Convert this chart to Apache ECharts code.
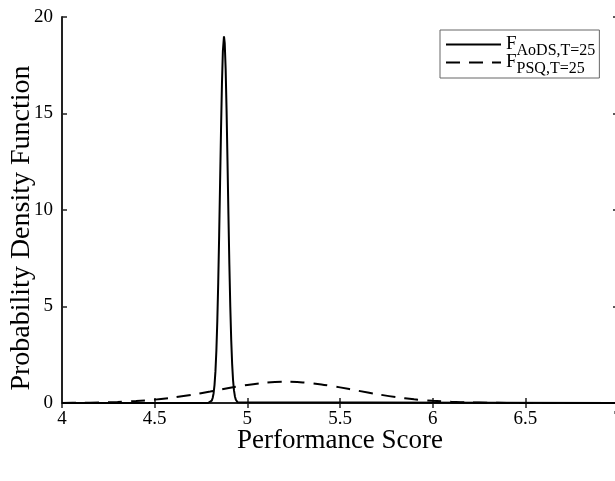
<!DOCTYPE html>
<html>
<head>
<meta charset="utf-8">
<script src="https://cdn.jsdelivr.net/npm/echarts@6/dist/echarts.min.js"></script>
<style>html,body{margin:0;padding:0;background:#fff;}#c{width:615px;height:481px;}</style>
</head>
<body>
<div id="c"></div>
<script>
const xTicks = [4, 4.5, 5, 5.5, 6, 6.5, 7];
const yTicks = [0, 5, 10, 15, 20];
const legendNames = ['AoDS', 'PSQ'];
const xAoDS = [4.0, 4.788, 4.798, 4.808, 4.813, 4.818, 4.823, 4.828, 4.833, 4.838, 4.843, 4.848, 4.853, 4.858, 4.863, 4.868, 4.874, 4.878, 4.883, 4.888, 4.893, 4.898, 4.903, 4.908, 4.913, 4.918, 4.923, 4.928, 4.933, 4.938, 4.948, 4.958, 7.0];
const yAoDS = [0, 0, 0.024, 0.124, 0.258, 0.507, 0.94, 1.65, 2.72, 4.25, 6.26, 8.70, 11.41, 14.13, 16.52, 18.23, 19.0, 18.65, 17.30, 15.15, 12.52, 9.76, 7.19, 5.00, 3.28, 2.03, 1.18, 0.65, 0.34, 0.167, 0.034, 0, 0];
const xPSQ = [4.0, 4.1, 4.2, 4.3, 4.4, 4.5, 4.6, 4.7, 4.8, 4.9, 5.0, 5.1, 5.2, 5.3, 5.4, 5.5, 5.6, 5.7, 5.8, 5.9, 6.0, 6.1, 6.2, 6.3, 6.4, 6.5, 6.7, 7.0];
const yPSQ = [0.005, 0.012, 0.026, 0.053, 0.10, 0.175, 0.283, 0.425, 0.595, 0.774, 0.936, 1.053, 1.10, 1.068, 0.964, 0.809, 0.632, 0.458, 0.308, 0.193, 0.113, 0.061, 0.031, 0.014, 0.006, 0.002, 0, 0];

const FONT = 'Liberation Serif';
const pair = (xs, ys) => xs.map((x, i) => [x, ys[i]]);
const chart = echarts.init(document.getElementById('c'));
const axisCommon = {
  axisLine: { show: true, lineStyle: { color: '#222', width: 2 } },
  axisTick: { show: true, inside: true, length: 5, lineStyle: { color: '#222', width: 1.5 } },
  splitLine: { show: false }
};
chart.setOption({
  animation: false,
  backgroundColor: '#fff',
  grid: { left: 62, right: -3, top: 17, bottom: 78, outerBoundsMode: 'none', containLabel: false },
  legend: {
    left: 440, top: 30,
    orient: 'vertical',
    itemWidth: 55, itemHeight: 18, itemGap: -6,
    padding: [5, 4, 1, 5],
    borderColor: '#666', borderWidth: 1, borderRadius: 0,
    backgroundColor: '#fff',
    data: legendNames,
    itemStyle: { opacity: 0 },
    formatter: n => '{a|F}{b|' + n + ',T=25}',
    textStyle: {
      fontFamily: FONT, color: '#000',
      rich: {
        a: { fontFamily: FONT, fontSize: 19, color: '#000', lineHeight: 19, verticalAlign: 'top' },
        b: { fontFamily: FONT, fontSize: 16, color: '#000', lineHeight: 16, verticalAlign: 'top', padding: [8, 0, 0, 0] }
      }
    }
  },
  xAxis: [
    Object.assign({}, axisCommon, {
      type: 'value', min: 4, max: 7, interval: 0.5,
      name: 'Performance Score', nameLocation: 'middle', nameGap: 24, nameMoveOverlap: false,
      nameTextStyle: { fontFamily: FONT, fontSize: 27, color: '#000' },
      axisLabel: { fontFamily: FONT, fontSize: 19, color: '#000', margin: 7,
        formatter: v => xTicks.includes(v) ? String(v) : '' }
    }),
    Object.assign({}, axisCommon, {
      type: 'value', min: 4, max: 7, interval: 0.5, position: 'top',
      axisLabel: { show: false }
    })
  ],
  yAxis: [
    Object.assign({}, axisCommon, {
      type: 'value', min: 0, max: 20, interval: 5,
      name: 'Probability Density Function', nameLocation: 'middle', nameGap: 26, nameMoveOverlap: false,
      nameTextStyle: { fontFamily: FONT, fontSize: 28, color: '#000', padding: [0, 36, 0, 0] },
      axisLabel: { fontFamily: FONT, fontSize: 19, color: '#000', margin: 9,
        formatter: v => yTicks.includes(v) ? String(v) : '' }
    }),
    Object.assign({}, axisCommon, {
      type: 'value', min: 0, max: 20, interval: 5, position: 'right',
      axisLabel: { show: false }
    })
  ],
  series: [
    {
      name: 'AoDS', type: 'line', data: pair(xAoDS, yAoDS),
      showSymbol: false, symbol: 'none', smooth: false,
      lineStyle: { color: '#000', width: 2, type: 'solid' },
      itemStyle: { color: '#000' }
    },
    {
      name: 'PSQ', type: 'line', data: pair(xPSQ, yPSQ),
      showSymbol: false, symbol: 'none', smooth: 0.3,
      lineStyle: { color: '#000', width: 2, type: [14, 9] },
      itemStyle: { color: '#000' }
    }
  ]
});
</script>
</body>
</html>
